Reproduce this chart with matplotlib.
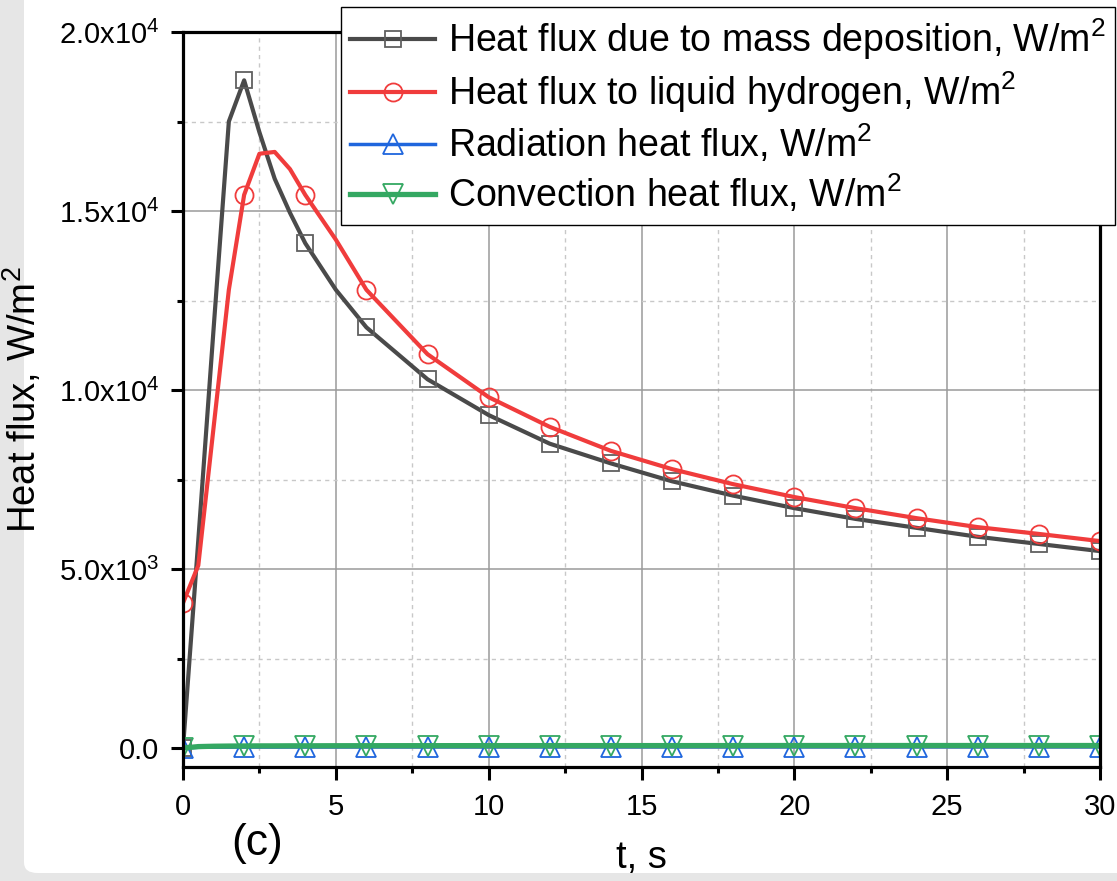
import numpy as np
import matplotlib
matplotlib.use("Agg")
import matplotlib.pyplot as plt
from matplotlib.patches import FancyBboxPatch

plt.rcParams['font.family'] = ['Liberation Sans', 'DejaVu Sans']
plt.rcParams['mathtext.fontset'] = 'custom'
plt.rcParams['mathtext.rm'] = 'Liberation Sans'
plt.rcParams['mathtext.it'] = 'Liberation Sans:italic'

# time points of the curves, s
t = [0, 0.5, 1, 1.5, 2, 2.5, 3, 3.5, 4, 5, 6, 8, 10, 12, 14, 16, 18, 20, 22, 24, 26, 28, 30]
# heat flux due to mass deposition, W/m2
q_dep = [0, 5800, 11700, 17500, 18650, 17200, 15900, 14950, 14100, 12800, 11750, 10300,
         9300, 8500, 7950, 7450, 7050, 6700, 6400, 6150, 5900, 5700, 5500]
# heat flux to liquid hydrogen, W/m2
q_lh2 = [4050, 5100, 8950, 12800, 15450, 16600, 16650, 16170, 15450, 14200, 12800, 11000,
         9800, 8970, 8300, 7790, 7370, 7010, 6700, 6420, 6170, 5980, 5780]
# radiation / convection, W/m2
q_rad = [0, 20, 25, 28, 30, 30, 30, 32, 32, 33, 34, 34, 35, 35, 35, 35, 35, 36, 36, 36, 36, 36, 36]
q_conv = [0, 40, 50, 55, 58, 60, 60, 62, 62, 64, 65, 66, 67, 68, 68, 68, 69, 70, 70, 70, 70, 70, 70]

labels = ["Heat flux due to mass deposition, W/m$^2$",
          "Heat flux to liquid hydrogen, W/m$^2$",
          "Radiation heat flux, W/m$^2$",
          "Convection heat flux, W/m$^2$"]

yticks = [0, 5000, 10000, 15000, 20000]
yticklabels = ["0.0", r"$\mathregular{5.0x10^3}$", r"$\mathregular{1.0x10^4}$",
               r"$\mathregular{1.5x10^4}$", r"$\mathregular{2.0x10^4}$"]
xticks = [0, 5, 10, 15, 20, 25, 30]

# markers every 2 s
mk = [i for i, v in enumerate(t) if v % 2 == 0]

fig = plt.figure(figsize=(11.17, 8.81), dpi=100, facecolor='#e6e6e6')
panel = FancyBboxPatch((24/1117, 8/881), 1.2, 1.2, boxstyle="round,pad=0,rounding_size=0.012",
                       transform=fig.transFigure, facecolor='white', edgecolor='none', zorder=-10)
fig.patches.append(panel)

ax = fig.add_axes([183/1117, 1-767/881, (1100-183)/1117, (767-32)/881])
ax.set_facecolor('white')

ax.plot(t, q_dep, color='#4a4a4a', lw=3.0, marker='s', ms=11.5, mfc='none', mec='#606060',
        mew=1.3, markevery=mk, label=labels[0])
ax.plot(t, q_lh2, color='#f03c3c', lw=3.0, marker='o', ms=13, mfc='none', mec='#f03c3c',
        mew=1.3, markevery=mk, label=labels[1])
ax.plot(t, q_rad, color='#1f66dd', lw=2.5, marker='^', ms=14, mfc='none', mec='#1f66dd',
        mew=1.3, markevery=mk, label=labels[2])
ax.plot(t, q_conv, color='#34a862', lw=3.8, marker='v', ms=14, mfc='none', mec='#34a862',
        mew=1.3, markevery=mk, label=labels[3])

ax.set_xlim(0, 30)
ax.set_ylim(-530, 20000)
ax.set_xticks(xticks)
ax.set_xticks(np.arange(2.5, 30, 5), minor=True)
ax.set_yticks(yticks)
ax.set_yticklabels(yticklabels)
ax.set_yticks(np.arange(2500, 20000, 5000), minor=True)

ax.grid(which='major', color='#9a9a9a', lw=1.1, ls='-')
ax.grid(which='minor', color='#c8c8c8', lw=1.0, ls=(0, (3, 3)))
ax.set_axisbelow(True)

for s in ax.spines.values():
    s.set_linewidth(2.3)
ax.tick_params(which='major', direction='out', length=9, width=2.2, labelsize=21)
ax.tick_params(axis='y', which='major', pad=8)
ax.tick_params(axis='x', which='major', pad=10)
ax.tick_params(which='minor', direction='out', length=4.5, width=2.2)

ax.set_ylabel("Heat flux, W/m$^2$", fontsize=27.5)
ax.yaxis.set_label_coords(-0.152, 0.5)
ax.set_xlabel("t, s", fontsize=27.5)
ax.xaxis.set_label_coords(0.5, -0.099)

fig.text(257/1117, 1-843/881, "(c)", fontsize=32, ha='center', va='center')

leg = ax.legend(loc='upper right', bbox_to_anchor=(1115/1117, 1-7/881), bbox_transform=fig.transFigure,
                fontsize=27, frameon=True, fancybox=False, edgecolor='black', framealpha=1,
                handlelength=2.25, handletextpad=0.35, labelspacing=0.2, borderpad=0.25,
                borderaxespad=0)
leg.get_frame().set_linewidth(1.0)

fig.savefig("out.png", dpi=100, facecolor=fig.get_facecolor())
